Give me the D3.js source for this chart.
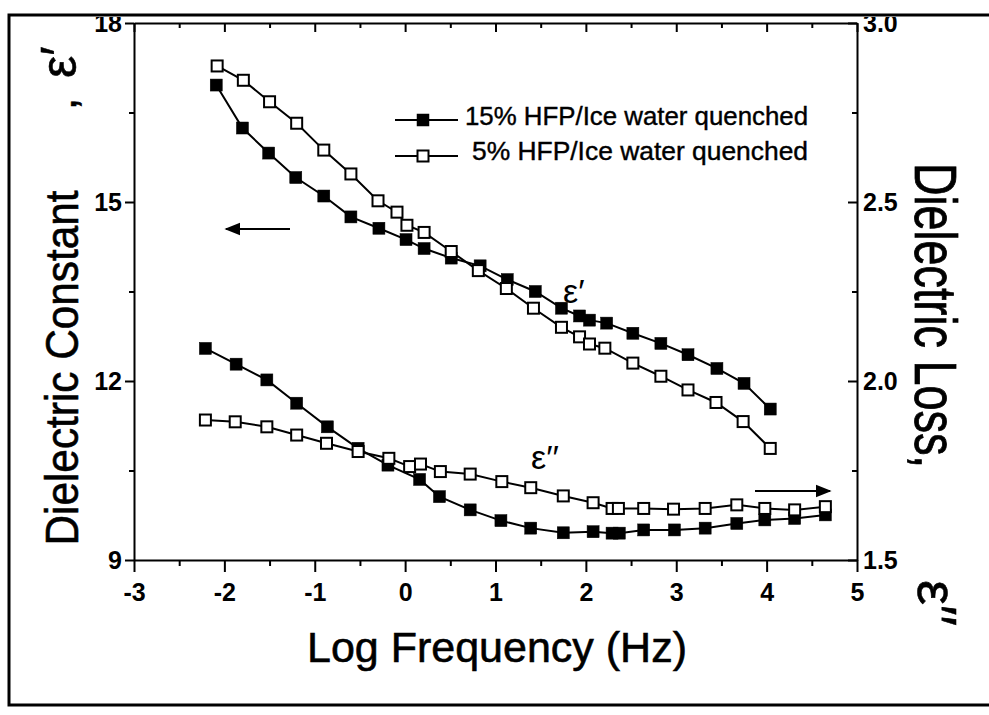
<!DOCTYPE html>
<html><head><meta charset="utf-8">
<script src="https://cdn.jsdelivr.net/npm/d3@7/dist/d3.min.js"></script>
<style>
body{margin:0;background:#fff}
svg{display:block}
text{font-family:"Liberation Sans",Arial,Helvetica,sans-serif;fill:#000}
</style>
</head><body>
<svg id="chart" width="989" height="715"></svg>
<script>
// ---------- data ----------
const realFreq15 = [-2.09,-1.80,-1.51,-1.21,-0.90,-0.60,-0.29,0.01,0.21,0.51,0.83,1.13,1.44,1.73,1.93,2.04,2.23,2.52,2.83,3.13,3.45,3.75,4.04];
const realEps15  = [16.96,16.24,15.82,15.41,15.10,14.75,14.56,14.37,14.22,14.06,13.93,13.70,13.50,13.22,13.09,13.02,12.97,12.80,12.63,12.44,12.21,11.96,11.53];
const realFreq5  = [-2.08,-1.79,-1.50,-1.20,-0.90,-0.60,-0.30,-0.09,0.02,0.21,0.51,0.81,1.12,1.42,1.73,1.93,2.04,2.21,2.52,2.83,3.13,3.44,3.74,4.04];
const realEps5   = [17.28,17.04,16.68,16.32,15.87,15.47,15.02,14.83,14.61,14.49,14.17,13.85,13.55,13.22,12.90,12.74,12.62,12.55,12.30,12.08,11.85,11.64,11.32,10.87];
const lossFreq15 = [-2.21,-1.87,-1.53,-1.20,-0.86,-0.52,-0.19,0.16,0.38,0.72,1.06,1.39,1.75,2.08,2.29,2.37,2.64,2.98,3.32,3.67,3.98,4.31,4.65];
const lossEps15  = [2.091,2.047,2.003,1.938,1.872,1.812,1.765,1.725,1.677,1.640,1.610,1.589,1.576,1.579,1.575,1.575,1.584,1.584,1.589,1.602,1.612,1.616,1.626];
const lossFreq5  = [-2.21,-1.88,-1.53,-1.20,-0.87,-0.52,-0.18,0.05,0.17,0.39,0.72,1.07,1.39,1.75,2.08,2.29,2.36,2.64,2.97,3.32,3.67,3.98,4.31,4.65];
const lossEps5   = [1.891,1.886,1.872,1.849,1.826,1.803,1.784,1.761,1.768,1.747,1.740,1.719,1.702,1.679,1.660,1.644,1.644,1.644,1.642,1.644,1.654,1.644,1.640,1.649];

const xTicks = [-3,-2,-1,0,1,2,3,4,5];
const xMinorTicks = [-2.5,-1.5,-0.5,0.5,1.5,2.5,3.5,4.5];
const yLeftTicks = [9,12,15,18];
const yLeftMinor = [10.5,13.5,16.5];
const yRightTicks = [1.5,2.0,2.5,3.0];
const yRightMinor = [1.75,2.25,2.75];
const legendLabels = ["15% HFP/Ice water quenched","5% HFP/Ice water quenched"];

// ---------- scales ----------
const svg = d3.select("#chart");
const L = 134, R = 857, T = 23, B = 560;
const x = d3.scaleLinear().domain([-3,5]).range([L,R]);
const yL = d3.scaleLinear().domain([9,18]).range([B,T]);
const yR = d3.scaleLinear().domain([1.5,3.0]).range([B,T]);

function styleAxis(g){
  g.selectAll("path.domain").attr("stroke","#000").attr("stroke-width",2);
  g.selectAll(".tick line").attr("stroke","#000").attr("stroke-width",2);
  g.selectAll("text").attr("font-size",25).attr("font-family","Liberation Sans, Arial, sans-serif")
    .attr("font-weight","bold").attr("fill","#000");
}
const plain = d => String(d);
// bottom
svg.append("g").attr("transform",`translate(0,${B})`)
  .call(d3.axisBottom(x).tickValues(xTicks).tickSize(12).tickSizeOuter(0).tickPadding(11).tickFormat(plain))
  .call(styleAxis);
svg.append("g").attr("transform",`translate(0,${B})`)
  .call(d3.axisBottom(x).tickValues(xMinorTicks).tickSize(6).tickFormat(""))
  .call(g=>g.select(".domain").remove()).call(styleAxis);
// top
svg.append("g").attr("transform",`translate(0,${T})`)
  .call(d3.axisTop(x).tickValues(xTicks).tickSize(-9).tickSizeOuter(0).tickFormat(""))
  .call(styleAxis);
svg.append("g").attr("transform",`translate(0,${T})`)
  .call(d3.axisTop(x).tickValues(xMinorTicks).tickSize(-5).tickFormat(""))
  .call(g=>g.select(".domain").remove()).call(styleAxis);
// left
svg.append("g").attr("transform",`translate(${L},0)`)
  .call(d3.axisLeft(yL).tickValues(yLeftTicks).tickSize(9).tickSizeOuter(0).tickPadding(3).tickFormat(plain))
  .call(styleAxis);
svg.append("g").attr("transform",`translate(${L},0)`)
  .call(d3.axisLeft(yL).tickValues(yLeftMinor).tickSize(5).tickFormat(""))
  .call(g=>g.select(".domain").remove()).call(styleAxis);
// right
svg.append("g").attr("transform",`translate(${R},0)`)
  .call(d3.axisRight(yR).tickValues(yRightTicks).tickSize(-9).tickSizeOuter(0).tickPadding(6).tickFormat(d3.format(".1f")))
  .call(styleAxis);
svg.append("g").attr("transform",`translate(${R},0)`)
  .call(d3.axisRight(yR).tickValues(yRightMinor).tickSize(-5).tickFormat(""))
  .call(g=>g.select(".domain").remove()).call(styleAxis);

// ---------- series ----------
function drawSeries(xs, ys, yScale, filled){
  const pts = d3.zip(xs, ys);
  svg.append("path").datum(pts)
    .attr("fill","none").attr("stroke","#000").attr("stroke-width",2)
    .attr("d", d3.line().x(d=>x(d[0])).y(d=>yScale(d[1])));
  const s = filled ? 12 : 11;
  svg.append("g").selectAll("rect").data(pts).join("rect")
    .attr("x", d=>x(d[0])-s/2).attr("y", d=>yScale(d[1])-s/2)
    .attr("width", s).attr("height", s)
    .attr("fill", filled ? "#000" : "#fff")
    .attr("stroke","#000").attr("stroke-width", filled ? 0.5 : 2);
}
drawSeries(realFreq15, realEps15, yL, true);
drawSeries(realFreq5, realEps5, yL, false);
drawSeries(lossFreq15, lossEps15, yR, true);
drawSeries(lossFreq5, lossEps5, yR, false);

// ---------- legend ----------
[[120,true,125,465,343],[156,false,160,472,336]].forEach(([ly,filled,tb,tx,tl],i)=>{
  svg.append("line").attr("x1",395).attr("x2",458).attr("y1",ly).attr("y2",ly)
    .attr("stroke","#000").attr("stroke-width",2);
  const s = filled ? 12 : 11;
  svg.append("rect").attr("x",423-s/2).attr("y",ly-s/2).attr("width",s).attr("height",s)
    .attr("fill",filled?"#000":"#fff").attr("stroke","#000").attr("stroke-width",filled?0.5:2);
  svg.append("text").attr("x", tx).attr("y",tb).attr("font-size",25.5)
    .attr("textLength",tl).attr("lengthAdjust","spacingAndGlyphs")
    .attr("stroke","#000").attr("stroke-width",0.4)
    .text(legendLabels[i]);
});

// ---------- arrows ----------
svg.append("defs").append("marker").attr("id","ah").attr("viewBox","0 0 10 10")
  .attr("refX",9).attr("refY",5).attr("markerWidth",8).attr("markerHeight",8)
  .attr("markerUnits","strokeWidth").attr("orient","auto")
  .append("path").attr("d","M0,1 L10,5 L0,9 Z").attr("fill","#000");
svg.append("line").attr("x1",290).attr("y1",229).attr("x2",226).attr("y2",229)
  .attr("stroke","#000").attr("stroke-width",2).attr("marker-end","url(#ah)");
svg.append("line").attr("x1",755).attr("y1",491).attr("x2",830).attr("y2",491)
  .attr("stroke","#000").attr("stroke-width",2).attr("marker-end","url(#ah)");

// ---------- annotations ----------
svg.append("text").attr("x",563).attr("y",303).attr("font-size",34).text("ε′");
svg.append("text").attr("x",531).attr("y",469).attr("font-size",34).text("ε′′");

// ---------- axis titles ----------
svg.append("text").attr("transform","translate(497,662)").attr("text-anchor","middle")
  .attr("font-size",43).attr("stroke","#000").attr("stroke-width",0.6).text("Log Frequency (Hz)");
svg.append("text").attr("transform","translate(78,368) rotate(-90)").attr("text-anchor","middle")
  .attr("font-size",46).attr("textLength",355).attr("lengthAdjust","spacingAndGlyphs")
  .attr("stroke","#000").attr("stroke-width",0.6)
  .text("Dielectric Constant");
svg.append("text").attr("transform","translate(76,110) rotate(-90)").attr("font-size",44)
  .attr("stroke","#000").attr("stroke-width",0.6).text(",");
svg.append("text").attr("transform","translate(76,78) rotate(-90)").attr("font-size",50)
  .attr("stroke","#000").attr("stroke-width",0.6).text("ε′");
svg.append("text").attr("transform","translate(915,163) rotate(90)")
  .attr("font-size",60).attr("textLength",305).attr("lengthAdjust","spacingAndGlyphs")
  .attr("stroke","#000").attr("stroke-width",0.8)
  .text("Dielectric Loss,");
svg.append("text").attr("transform","translate(918,580) rotate(90)").attr("font-size",56)
  .attr("stroke","#000").attr("stroke-width",0.6).text("ε′′");

// ---------- scan frame (crops top labels) ----------
svg.append("rect").attr("x",0).attr("y",0).attr("width",989).attr("height",17).attr("fill","#fff");
svg.append("path").attr("d","M989,15 L9,15 L9,705 L989,705")
  .attr("fill","none").attr("stroke","#000").attr("stroke-width",3);
</script>
</body></html>
